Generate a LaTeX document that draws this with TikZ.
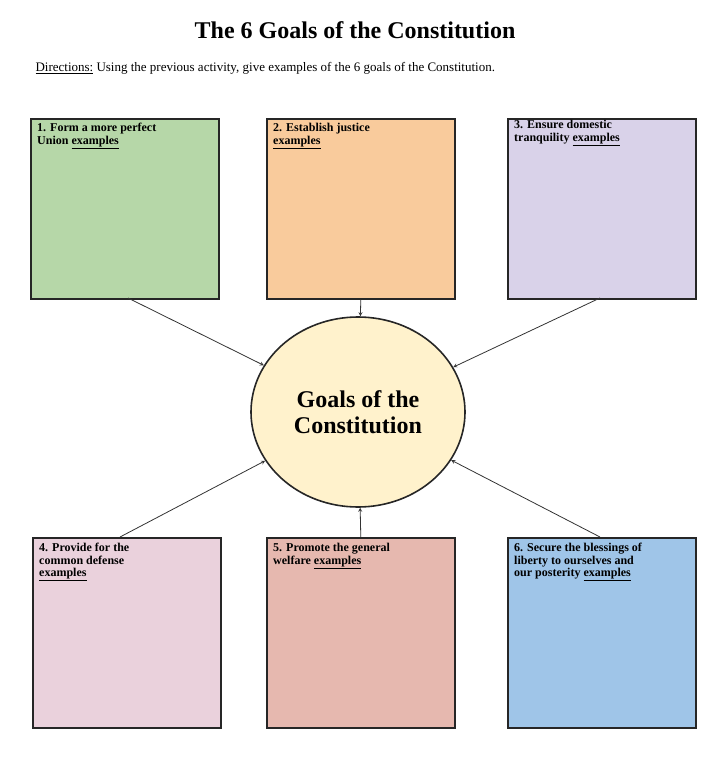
\documentclass[tikz,border=0pt]{standalone}
\usepackage{fontspec}
\setmainfont{Liberation Serif}
\usetikzlibrary{shapes,arrows,positioning}
\definecolor{goalgreen}{HTML}{B6D7A8}
\definecolor{goalorange}{HTML}{F9CB9C}
\definecolor{goallilac}{HTML}{D9D2E9}
\definecolor{goalpink}{HTML}{EAD1DC}
\definecolor{goalsalmon}{HTML}{E6B8AF}
\definecolor{goalblue}{HTML}{9FC5E8}
\definecolor{goalcream}{HTML}{FFF2CC}
\begin{document}
\begin{tikzpicture}[x=1pt, y=-1pt,
    goal/.style={rectangle, draw=black!85, line width=1.6pt, minimum width=188pt, minimum height=180pt, anchor=north west},
    goaltext/.style={anchor=north west, align=left, inner sep=2pt, font=\bfseries\fontsize{12}{12.5}\selectfont},
    hub/.style={ellipse, draw=black!85, line width=1.6pt, fill=goalcream, minimum width=214pt, minimum height=190pt, align=center, font=\bfseries\fontsize{24}{26}\selectfont},
    link/.style={->, >=stealth, thick, black!80}
]
\useasboundingbox (0,0) rectangle (720,773);

% Title and directions
\node[font=\bfseries\fontsize{24}{26}\selectfont] (title) at (355,30) {The 6 Goals of the Constitution};
\node[anchor=west, font=\fontsize{13}{15}\selectfont] (dir) at (32,68) {\underline{Directions:} Using the previous activity, give examples of the 6 goals of the Constitution.};

% Goal boxes
\node[goal, fill=goalgreen] (g1) at (30,118) {};
\node[goal, fill=goalorange] (g2) at (266,118) {};
\node[goal, fill=goallilac] (g3) at (507,118) {};
\node[goal, fill=goalpink, minimum height=190pt] (g4) at (32,537) {};
\node[goal, fill=goalsalmon, minimum height=190pt] (g5) at (266,537) {};
\node[goal, fill=goalblue, minimum height=190pt] (g6) at (507,537) {};

\node[goaltext] (t1) at (35,121) {1. Form a more perfect\\Union \underline{examples}};
\node[goaltext] (t2) at (271,121) {2. Establish justice\\\underline{examples}};
\node[goaltext] (t3) at (512,118) {3. Ensure domestic\\tranquility \underline{examples}};
\node[goaltext] (t4) at (37,541) {4. Provide for the\\common defense\\\underline{examples}};
\node[goaltext] (t5) at (271,541) {5. Promote the general\\welfare \underline{examples}};
\node[goaltext] (t6) at (512,541) {6. Secure the blessings of\\liberty to ourselves and\\our posterity \underline{examples}};

% Centre
\node[hub] (hub) at (358,412) {Goals of the\\Constitution};

% Arrows
\draw[link] (128,298) -- (hub);
\draw[link] (g2.south) -- (hub);
\draw[link] (600,298) -- (hub);
\draw[link] (120,537) -- (hub);
\draw[link] (g5.north) -- (hub);
\draw[link] (600,537) -- (hub);
\end{tikzpicture}
\end{document}
